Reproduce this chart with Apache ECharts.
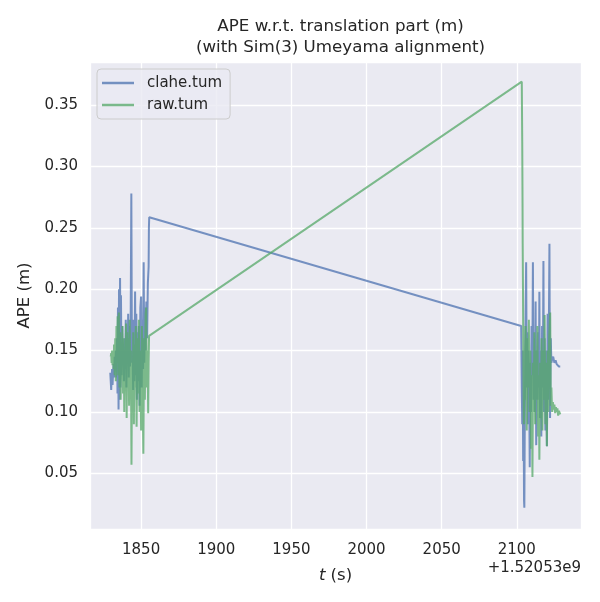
<!DOCTYPE html>
<html>
<head>
<meta charset="utf-8">
<script src="https://cdn.jsdelivr.net/npm/echarts@6/dist/echarts.min.js"></script>
<style>
  html, body { margin: 0; padding: 0; background: #fff; }
  #Chart { width: 600px; height: 602px; }
</style>
</head>
<body>
<div id="Chart"></div>
<script>
// timestamps are relative to 1.52053e9 s
var tOffsetText = '+1.52053e9';

var claheT = [
    1829.5, 1829.8, 1830.1, 1830.4, 1830.7, 1831.0, 1831.3, 1831.7, 1832.0, 1832.4,
    1832.8, 1833.2, 1833.6, 1834.0, 1834.3, 1834.6, 1835.0, 1835.3, 1835.6, 1836.0,
    1836.3, 1836.6, 1837.0, 1837.4, 1837.8, 1838.2, 1838.6, 1839.0, 1839.4, 1839.8,
    1840.2, 1840.6, 1841.0, 1841.4, 1841.8, 1842.2, 1842.6, 1843.0, 1843.5, 1843.9,
    1844.3, 1844.7, 1845.1, 1845.5, 1846.0, 1846.4, 1846.8, 1847.2, 1847.6, 1848.0,
    1848.5, 1849.0, 1849.5, 1850.0, 1850.4, 1850.8, 1851.3, 1851.7, 1852.1, 1852.6,
    1853.0, 1853.5, 1854.0, 1854.5, 1855.0, 1855.2, 1855.4,
    2102.9, 2103.3, 2103.6, 2103.9, 2104.2, 2104.5, 2104.8, 2105.0, 2105.3, 2105.7,
    2106.2, 2106.6, 2107.0, 2107.4, 2107.8, 2108.2, 2108.6, 2109.0, 2109.4, 2109.8,
    2110.3, 2110.7, 2111.1, 2111.5, 2112.0, 2112.5, 2112.9, 2113.3, 2113.8, 2114.3,
    2114.7, 2115.0, 2115.4, 2115.8, 2116.3, 2116.8, 2117.3, 2117.7, 2118.1, 2118.5,
    2119.0, 2119.5, 2120.0, 2120.5, 2121.0, 2121.7, 2122.1, 2122.6, 2123.0, 2123.5,
    2124.2, 2125.0, 2125.8, 2126.5, 2127.3, 2128.0, 2128.9
];
var claheApe = [
    0.132, 0.125, 0.118, 0.128, 0.135, 0.122, 0.130, 0.139, 0.128, 0.145,
    0.135, 0.150, 0.128, 0.160, 0.115, 0.185, 0.102, 0.200, 0.110, 0.209,
    0.120, 0.195, 0.130, 0.170, 0.140, 0.155, 0.125, 0.160, 0.135, 0.175,
    0.120, 0.165, 0.140, 0.180, 0.128, 0.170, 0.137, 0.160, 0.278, 0.140,
    0.165, 0.118, 0.175, 0.125, 0.198, 0.130, 0.180, 0.110, 0.165, 0.125,
    0.170, 0.105, 0.185, 0.194, 0.120, 0.175, 0.135, 0.222, 0.140, 0.185,
    0.150, 0.190, 0.160, 0.205, 0.218, 0.250, 0.2586,
    0.170, 0.120, 0.090, 0.150, 0.060, 0.110, 0.028, 0.022, 0.095, 0.160,
    0.222, 0.120, 0.165, 0.090, 0.150, 0.120, 0.055, 0.140, 0.100, 0.170,
    0.130, 0.222, 0.110, 0.160, 0.100, 0.190, 0.073, 0.150, 0.110, 0.165,
    0.120, 0.198, 0.095, 0.150, 0.080, 0.170, 0.120, 0.223, 0.100, 0.160,
    0.085, 0.150, 0.072, 0.180, 0.110, 0.237, 0.095, 0.160, 0.140, 0.143,
    0.145, 0.140, 0.142, 0.139, 0.140, 0.137, 0.137
];

var rawT = [
    1829.8, 1830.1, 1830.4, 1830.7, 1831.0, 1831.3, 1831.7, 1832.0, 1832.4, 1832.8,
    1833.2, 1833.6, 1834.0, 1834.4, 1834.8, 1835.2, 1835.6, 1836.0, 1836.4, 1836.8,
    1837.2, 1837.6, 1838.0, 1838.4, 1838.8, 1839.2, 1839.6, 1840.0, 1840.4, 1840.8,
    1841.2, 1841.6, 1842.0, 1842.4, 1842.8, 1843.2, 1843.6, 1844.0, 1844.4, 1844.8,
    1845.2, 1845.6, 1846.0, 1846.5, 1847.0, 1847.5, 1848.0, 1848.5, 1849.0, 1849.5,
    1850.0, 1850.5, 1851.0, 1851.5, 1852.0, 1852.5, 1853.0, 1853.4, 1853.8, 1854.3,
    1854.7, 1855.0, 1855.3,
    2103.3, 2103.6, 2103.8, 2103.9, 2104.1, 2104.4, 2104.7, 2105.0, 2105.4, 2105.8,
    2106.2, 2106.6, 2107.0, 2107.5, 2108.0, 2108.5, 2109.0, 2109.5, 2110.0, 2110.4,
    2110.8, 2111.2, 2111.7, 2112.2, 2112.7, 2113.2, 2113.7, 2114.2, 2114.6, 2115.0,
    2115.5, 2116.0, 2116.5, 2117.0, 2117.5, 2118.0, 2118.5, 2119.0, 2119.5, 2120.0,
    2120.5, 2121.0, 2121.5, 2122.2, 2122.6, 2123.0, 2123.5, 2124.0, 2124.5, 2125.0,
    2125.5, 2126.0, 2126.5, 2127.0, 2127.5, 2128.0, 2128.9
];
var rawApe = [
    0.145, 0.148, 0.140, 0.150, 0.138, 0.147, 0.135, 0.155, 0.130, 0.160,
    0.125, 0.170, 0.140, 0.178, 0.130, 0.181, 0.120, 0.165, 0.110, 0.155,
    0.140, 0.170, 0.115, 0.160, 0.100, 0.150, 0.125, 0.172, 0.095, 0.165,
    0.130, 0.160, 0.105, 0.175, 0.120, 0.150, 0.057, 0.140, 0.110, 0.165,
    0.090, 0.155, 0.120, 0.170, 0.088, 0.160, 0.115, 0.175, 0.100, 0.150,
    0.085, 0.170, 0.120, 0.066, 0.160, 0.110, 0.180, 0.185, 0.120, 0.150,
    0.099, 0.140, 0.162,
    0.369, 0.320, 0.270, 0.237, 0.200, 0.130, 0.090, 0.150, 0.110, 0.170,
    0.130, 0.085, 0.160, 0.120, 0.175, 0.100, 0.150, 0.070, 0.130, 0.047,
    0.140, 0.100, 0.165, 0.090, 0.150, 0.110, 0.170, 0.080, 0.130, 0.061,
    0.140, 0.095, 0.160, 0.085, 0.150, 0.110, 0.179, 0.090, 0.140, 0.072,
    0.150, 0.100, 0.160, 0.181, 0.105, 0.120, 0.100, 0.108, 0.102, 0.106,
    0.099, 0.104, 0.100, 0.103, 0.097, 0.101, 0.098
];

var seriesNames = ['clahe.tum', 'raw.tum'];
var xTickStep = 50;
var yTickStep = 0.05;

function pairUp(ts, vs) {
    var out = [];
    for (var i = 0; i < ts.length; i++) out.push([ts[i], vs[i]]);
    return out;
}

function onStep(v, step) {
    var r = v / step;
    return Math.abs(r - Math.round(r)) < 1e-6;
}

var Chart = echarts.init(document.getElementById('Chart'));
var font = 'DejaVu Sans';
var ink = '#262626';

var option = {
    animation: false,
    backgroundColor: '#ffffff',
    textStyle: { fontFamily: font, color: ink },
    title: {
        text: 'APE w.r.t. translation part (m)\n(with Sim(3) Umeyama alignment)',
        left: 335.5,
        top: 11,
        textAlign: 'center',
        textStyle: { fontFamily: font, fontSize: 16.7, fontWeight: 'normal', color: ink, lineHeight: 21 }
    },
    legend: {
        orient: 'vertical',
        left: 97,
        top: 69,
        padding: [5, 8, 5, 5],
        itemGap: 4,
        itemWidth: 32,
        itemHeight: 2.5,
        icon: 'rect',
        backgroundColor: 'rgba(234,234,242,0.8)',
        borderColor: '#cccccc',
        borderWidth: 1,
        borderRadius: 4,
        textStyle: { fontFamily: font, fontSize: 15, color: ink, padding: [0, 0, 0, 8], lineHeight: 18 },
        data: [
            { name: seriesNames[0], itemStyle: { color: '#7390c0' } },
            { name: seriesNames[1], itemStyle: { color: '#7ab98b' } }
        ]
    },
    grid: { left: 90, right: 19, top: 62, bottom: 73, show: true, backgroundColor: '#eaeaf2', borderWidth: 0 },
    xAxis: {
        type: 'value',
        min: 1816,
        max: 2142.7,
        minInterval: xTickStep,
        maxInterval: xTickStep,
        name: '{i|t} (s)',
        nameLocation: 'middle',
        nameGap: 38,
        nameTextStyle: {
            fontFamily: font, fontSize: 16.5, color: ink,
            rich: { i: { fontFamily: font, fontSize: 16.5, fontStyle: 'italic', color: ink } }
        },
        axisLine: { show: false },
        axisTick: { show: false },
        axisLabel: {
            fontFamily: font, fontSize: 15, color: ink, margin: 14,
            showMinLabel: false, showMaxLabel: false,
            formatter: function (v) { return onStep(v, xTickStep) ? String(Math.round(v)) : ''; }
        },
        splitLine: { show: true, lineStyle: { color: '#ffffff', width: 1.3 } }
    },
    yAxis: {
        type: 'value',
        min: 0.0047,
        max: 0.385,
        minInterval: yTickStep,
        maxInterval: yTickStep,
        name: 'APE (m)',
        nameLocation: 'middle',
        nameGap: 54,
        nameTextStyle: { fontFamily: font, fontSize: 16.5, color: ink },
        axisLine: { show: false },
        axisTick: { show: false },
        axisLabel: {
            fontFamily: font, fontSize: 15, color: ink, margin: 12,
            showMinLabel: false, showMaxLabel: false,
            formatter: function (v) { return onStep(v, yTickStep) ? v.toFixed(2) : ''; }
        },
        splitLine: { show: true, lineStyle: { color: '#ffffff', width: 1.3 } }
    },
    graphic: [{
        type: 'text',
        right: 19,
        top: 561,
        style: { text: tOffsetText, font: '15px "DejaVu Sans"', fill: ink }
    }],
    series: [
        {
            name: seriesNames[0],
            type: 'line',
            showSymbol: false,
            color: '#4c72b0',
            lineStyle: { width: 2, color: '#4c72b0', opacity: 0.75 },
            data: pairUp(claheT, claheApe)
        },
        {
            name: seriesNames[1],
            type: 'line',
            showSymbol: false,
            color: '#55a868',
            lineStyle: { width: 2, color: '#55a868', opacity: 0.75 },
            data: pairUp(rawT, rawApe)
        }
    ]
};

Chart.setOption(option);

window.addEventListener("resize", function () {
    Chart.resize();
});
</script>
</body>
</html>
